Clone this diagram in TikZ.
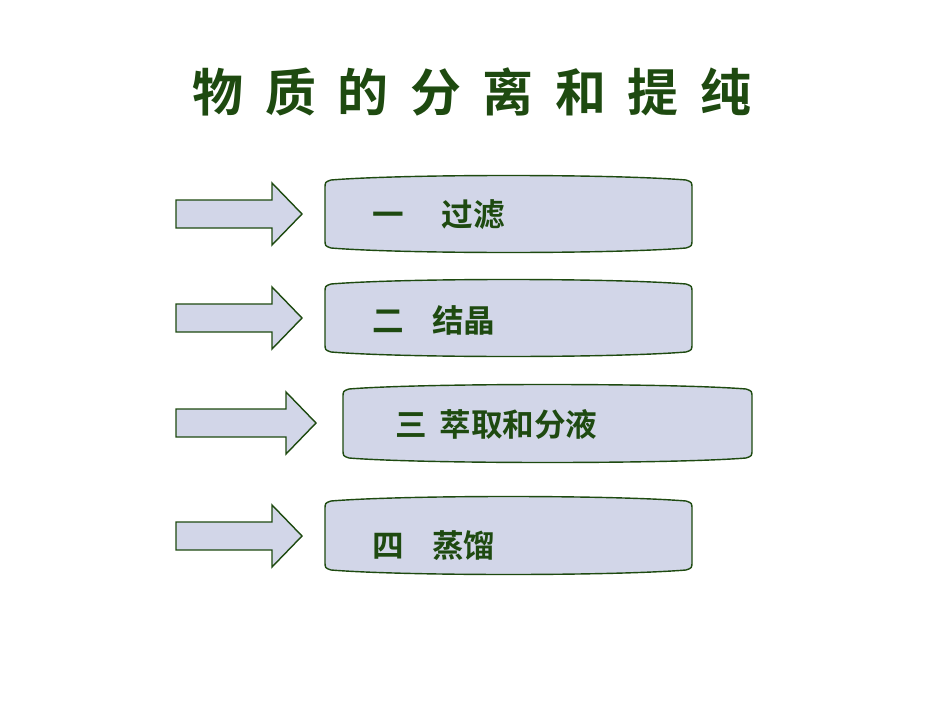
\documentclass[tikz,border=0pt]{standalone}
\usepackage{fontspec}
\newfontfamily\cjk{Noto Sans CJK SC Bold}
\definecolor{dg}{HTML}{1E4A10}
\definecolor{lav}{HTML}{D2D6E8}
\definecolor{gr}{HTML}{8FA888}
\tikzset{
  fillshade/.style={left color=lav,middle color=gr!85!lav,right color=lav,shading angle=60},
  boxtext/.style={font=\cjk\fontsize{18}{18}\selectfont,text=dg,anchor=west},
  titletext/.style={font=\cjk\fontsize{29}{29}\selectfont,text=dg}
}
\newcommand{\mybox}[5]{% name, x1,y1,x2,y2
  \path[fillshade,draw=dg,line width=0.8pt] (#2+6,#3+3) .. controls (#2+80,#3-3) and (#4-80,#3-3) .. (#4-6,#3+3)
   .. controls (#4,#3+5) .. (#4,#3+12) -- (#4,#5-12) .. controls (#4,#5-5) .. (#4-6,#5-3)
   .. controls (#4-80,#5+3) and (#2+80,#5+3) .. (#2+6,#5-3) .. controls (#2,#5-5) .. (#2,#5-12)
   -- (#2,#3+12) .. controls (#2,#3+5) .. cycle;
  \coordinate (#1) at ({(#2+#4)/2},{(#3+#5)/2});}
\newcommand{\myarrow}[4]{% name x1 x2 yc
  \path[fillshade,draw=dg,line width=0.8pt] (#2,#4-14) -- (#3-30,#4-14) -- (#3-30,#4-31) -- (#3,#4) -- (#3-30,#4+31) -- (#3-30,#4+14) -- (#2,#4+14) -- cycle;
  \coordinate (#1) at ({(#2+#3)/2},#4);}
\begin{document}
\begin{tikzpicture}[x=0.02cm,y=-0.02cm]
\useasboundingbox (0,0) rectangle (950,713);
\fill[white] (0,0) rectangle (950,713);
\foreach \c [count=\i] in {物,质,的,分,离,和,提,纯}
  \node[titletext] (t\i) at ({218+72.5*(\i-1)},92) {\c};
\myarrow{a1}{176}{302}{214}
\myarrow{a2}{176}{302}{318}
\myarrow{a3}{176}{316}{423}
\myarrow{a4}{176}{302}{536}
\mybox{b1}{325}{177}{692}{251}
\mybox{b2}{325}{281}{692}{355}
\mybox{b3}{343}{386}{752}{461}
\mybox{b4}{325}{498}{692}{573}
\node[boxtext] (l1) at (366,215) {一\hspace{1.2em}过滤};
\node[boxtext] (l2) at (366,320) {二\hspace{0.9em}结晶};
\node[boxtext] (l3) at (389,424) {三\hspace{0.4em}萃取和分液};
\node[boxtext] (l4) at (366,546) {四\hspace{0.9em}蒸馏};
\end{tikzpicture}
\end{document}
